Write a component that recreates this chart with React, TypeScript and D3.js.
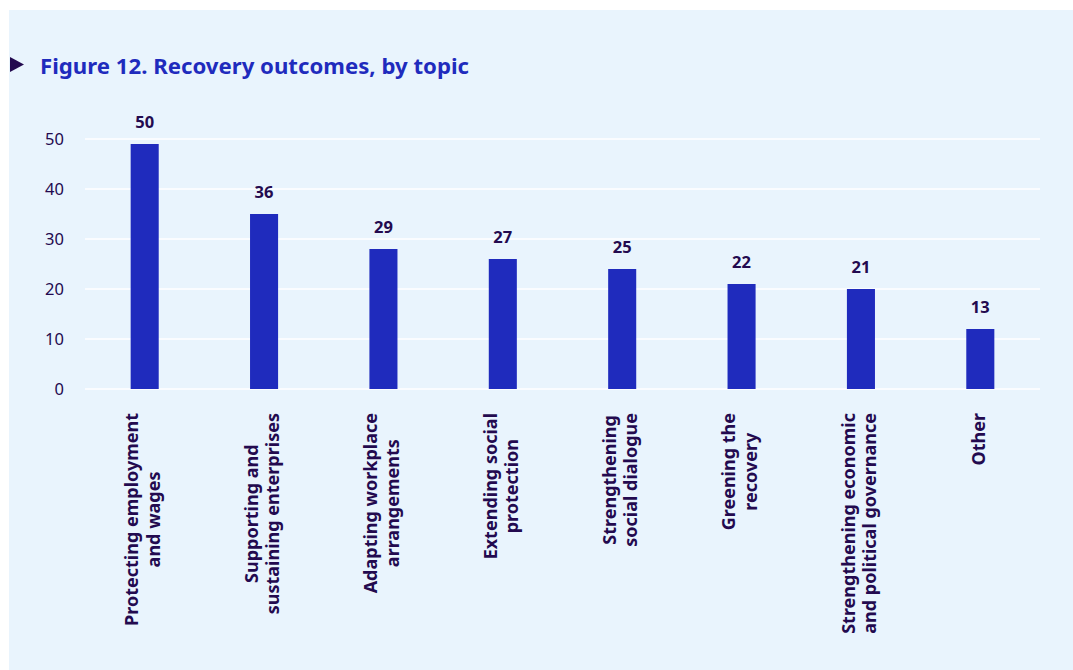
import { useEffect, useRef } from 'react';
import * as d3 from 'd3';

const categories: string[][] = [
  ['Protecting employment', 'and wages'],
  ['Supporting and', 'sustaining enterprises'],
  ['Adapting workplace', 'arrangements'],
  ['Extending social', 'protection'],
  ['Strengthening', 'social dialogue'],
  ['Greening the', 'recovery'],
  ['Strengthening economic', 'and political governance'],
  ['Other']
];

// bar heights as drawn, and the value labels printed above them
const barValues = [49, 35, 28, 26, 24, 21, 20, 12];
const labelValues = [50, 36, 29, 27, 25, 22, 21, 13];
const yTicks = [0, 10, 20, 30, 40, 50];

const TITLE = 'Figure 12. Recovery outcomes, by topic';
const FONT = "'Noto Sans', sans-serif";
const DARK = '#230a4f';
const BLUE = '#1f2bbd';
const BG = '#e9f4fd';

export default function App() {
  const ref = useRef<SVGSVGElement | null>(null);

  useEffect(() => {
    if (!ref.current) return;
    const svg = d3.select(ref.current);
    svg.selectAll('*').remove();

    const width = 1073;
    const height = 670;
    const margin = { top: 139, right: 33, bottom: 281, left: 85 };

    // panel background
    svg.append('rect')
      .attr('x', 9)
      .attr('y', 10)
      .attr('width', width - 9)
      .attr('height', height - 10)
      .attr('fill', BG);

    // title with marker
    svg.append('path')
      .attr('d', 'M10,57L24,64.5L10,72Z')
      .attr('fill', DARK);
    svg.append('text')
      .attr('x', 40)
      .attr('y', 74)
      .style('font-family', FONT)
      .style('font-weight', 700)
      .style('font-size', '22.2px')
      .style('fill', BLUE)
      .text(TITLE);

    const x = d3
      .scaleBand<number>()
      .domain(d3.range(categories.length))
      .range([margin.left, width - margin.right])
      .paddingInner(0.765)
      .paddingOuter(0.3825);

    const y = d3
      .scaleLinear()
      .domain([0, 50])
      .range([height - margin.bottom, margin.top]);

    // grid lines
    svg.append('g')
      .selectAll('line')
      .data(yTicks)
      .enter()
      .append('line')
      .attr('x1', margin.left)
      .attr('x2', width - margin.right)
      .attr('y1', (d) => y(d))
      .attr('y2', (d) => y(d))
      .attr('stroke', '#ffffff')
      .attr('stroke-width', 1.5);

    // y tick labels
    svg.append('g')
      .selectAll('text')
      .data(yTicks)
      .enter()
      .append('text')
      .attr('x', 64)
      .attr('y', (d) => y(d))
      .attr('dy', '0.36em')
      .attr('text-anchor', 'end')
      .style('font-family', FONT)
      .style('font-size', '16.5px')
      .style('fill', DARK)
      .text((d) => d);

    // bars
    svg.append('g')
      .selectAll('rect')
      .data(barValues)
      .enter()
      .append('rect')
      .attr('x', (_, i) => x(i) as number)
      .attr('y', (d) => y(d))
      .attr('width', x.bandwidth())
      .attr('height', (d) => y(0) - y(d))
      .attr('fill', BLUE);

    // value labels
    svg.append('g')
      .selectAll('text')
      .data(labelValues)
      .enter()
      .append('text')
      .attr('x', (_, i) => (x(i) as number) + x.bandwidth() / 2)
      .attr('y', (_, i) => y(barValues[i]) - 16)
      .attr('text-anchor', 'middle')
      .style('font-family', FONT)
      .style('font-weight', 700)
      .style('font-size', '16.5px')
      .style('fill', DARK)
      .text((d) => d);

    // rotated category labels
    const lineHeight = 21.5;
    const labelTop = y(0) + 24;
    categories.forEach((lines, i) => {
      const cx = (x(i) as number) + x.bandwidth() / 2;
      const g = svg.append('g').attr('transform', 'rotate(-90)');
      const texts = lines.map((line, j) =>
        g.append('text')
          .attr('y', cx + 4.5 + (j - (lines.length - 1) / 2) * lineHeight)
          .attr('text-anchor', 'middle')
          .style('font-family', FONT)
          .style('font-weight', 700)
          .style('font-size', '18px')
          .style('fill', DARK)
          .text(line)
      );
      const maxW = d3.max(texts, (t) => (t.node() as SVGTextElement).getComputedTextLength()) ?? 0;
      texts.forEach((t) => t.attr('x', -(labelTop + maxW / 2)));
    });
  }, []);

  return (
    <svg
      ref={ref}
      width={1073}
      height={670}
      style={{ position: 'absolute', left: 0, top: 0, background: '#ffffff' }}
    />
  );
}
